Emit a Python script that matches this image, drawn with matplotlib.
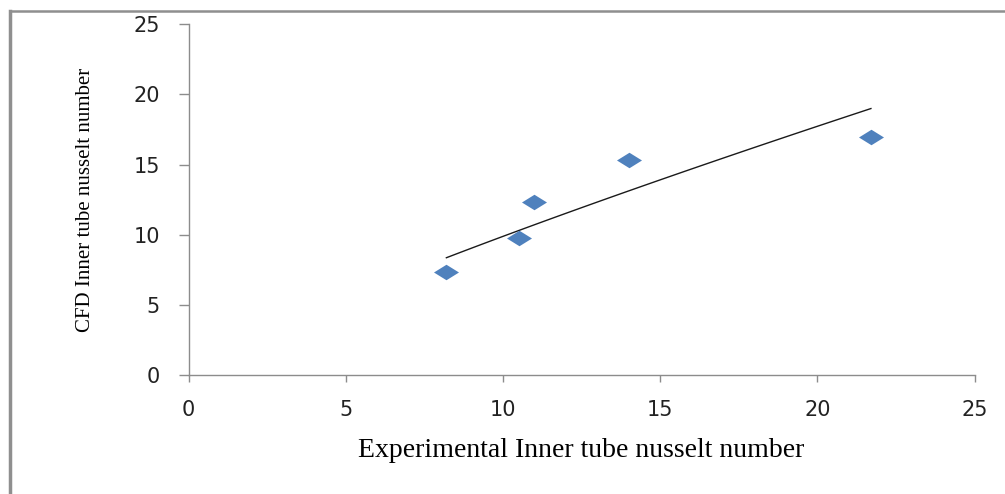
import numpy as np
import matplotlib
matplotlib.use("Agg")
import matplotlib.pyplot as plt
from matplotlib.lines import Line2D

# Data
exp_nu = [8.2, 10.5, 11.0, 14.0, 21.7]
cfd_nu = [7.36, 9.74, 12.33, 15.35, 16.94]
x_ticks = [0, 5, 10, 15, 20, 25]
y_ticks = [0, 5, 10, 15, 20, 25]

# Power trendline (y = a * x^b) fitted to the data
b, ln_a = np.polyfit(np.log(exp_nu), np.log(cfd_nu), 1)
xt = np.linspace(min(exp_nu), max(exp_nu), 100)
yt = np.exp(ln_a) * xt ** b

fig = plt.figure(figsize=(10.05, 4.94), dpi=100)
ax = fig.add_axes([188.5 / 1005, 1 - 375 / 494, (974.7 - 188.5) / 1005, (375 - 24.3) / 494])

wide_diamond = [(-1, 0), (0, 0.62), (1, 0), (0, -0.62), (-1, 0)]
ax.plot(xt, yt, color="#1a1a1a", lw=1.0, zorder=2)
ax.plot(exp_nu, cfd_nu, linestyle="none", marker=wide_diamond, markersize=18,
        color="#4F81BD", markeredgewidth=0, zorder=3)

ax.set_xlim(0, 25)
ax.set_ylim(0, 25)
ax.set_xticks(x_ticks)
ax.set_yticks(y_ticks)
for s in ["top", "right"]:
    ax.spines[s].set_visible(False)
for s in ["left", "bottom"]:
    ax.spines[s].set_color("#8c8c8c")
    ax.spines[s].set_linewidth(1.0)
ax.tick_params(axis="x", direction="out", length=5, width=1, color="#8c8c8c",
               pad=13, labelsize=15, labelcolor="#222222")
ax.tick_params(axis="y", direction="out", length=7.5, width=1, color="#8c8c8c",
               pad=13, labelsize=15, labelcolor="#222222")
for lab in ax.get_xticklabels() + ax.get_yticklabels():
    lab.set_fontfamily("DejaVu Sans")

ax.set_xlabel("Experimental Inner tube nusselt number", family="Liberation Serif",
              fontsize=20, color="black")
ax.xaxis.set_label_coords(0.5, -(450 - 375) / (375 - 24.3))
ax.xaxis.label.set_va("center")
ax.set_ylabel("CFD Inner tube nusselt number", family="Liberation Serif",
              fontsize=15, color="black")
ax.yaxis.set_label_coords((86 - 188.5) / (974.7 - 188.5), 0.5)
ax.yaxis.label.set_va("center")

# Outer frame (cut off at the right and bottom edges like the reference)
fig.add_artist(Line2D([10 / 1005, 10 / 1005], [0, 1 - 11 / 494], transform=fig.transFigure,
                      color="#8f8f8f", lw=2.5))
fig.add_artist(Line2D([10 / 1005, 1], [1 - 11 / 494, 1 - 11 / 494], transform=fig.transFigure,
                      color="#8f8f8f", lw=1.8))

fig.savefig("out.png", dpi=100)
